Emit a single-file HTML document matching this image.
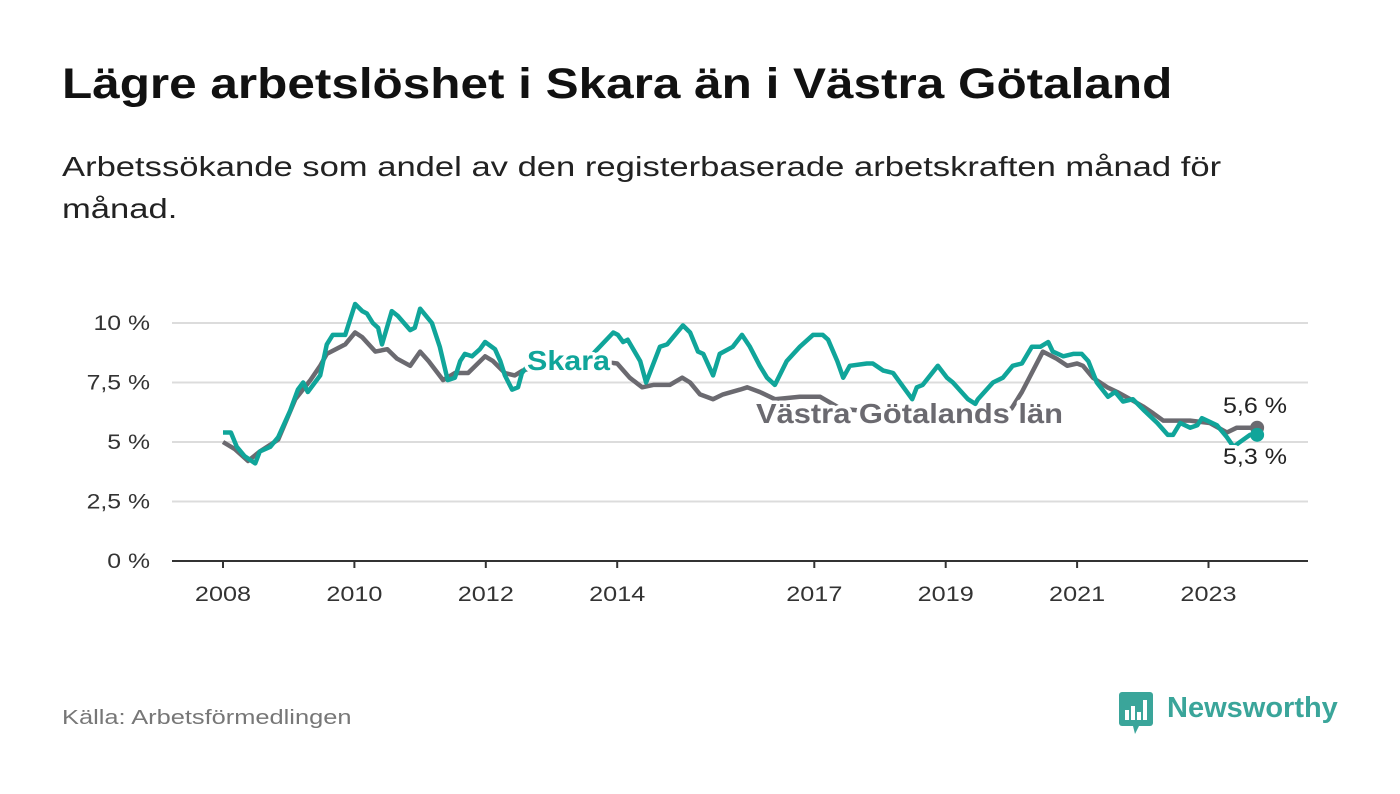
<!DOCTYPE html>
<html><head><meta charset="utf-8"><style>
body{margin:0;background:#fff;font-family:"Liberation Sans","DejaVu Sans",sans-serif;}
#wrap{position:relative;width:1400px;height:794px;overflow:hidden;}
h1{position:absolute;left:62px;top:60px;margin:0;font-size:43px;font-weight:bold;color:#111;transform:scaleX(1.15);transform-origin:left top;white-space:nowrap;}
.sub{position:absolute;left:62px;top:146px;margin:0;font-size:28px;line-height:42px;color:#222;transform:scaleX(1.235);transform-origin:left top;white-space:nowrap;}
.src{position:absolute;left:62px;top:707px;font-size:20px;color:#777;transform:scaleX(1.27);transform-origin:left top;white-space:nowrap;}
</style></head><body>
<div id="wrap">
<h1>Lägre arbetslöshet i Skara än i Västra Götaland</h1>
<p class="sub">Arbetssökande som andel av den registerbaserade arbetskraften månad för<br>månad.</p>
<svg id="chart" width="1400" height="794" style="position:absolute;left:0;top:0"></svg>
<div class="src">Källa: Arbetsförmedlingen</div>
<div style="position:absolute;left:1119px;top:690px;width:220px;height:46px;">
<svg width="36" height="44" style="position:absolute;left:0;top:2px"><rect x="0" y="0" width="34" height="34" rx="3" fill="#3aa59a"/><path d="M14 34 L20 34 L16 42 Z" fill="#3aa59a"/><rect x="6" y="18" width="4" height="10" fill="#fff"/><rect x="12" y="14" width="4" height="14" fill="#fff"/><rect x="18" y="20" width="4" height="8" fill="#fff"/><rect x="24" y="8" width="4" height="20" fill="#fff"/></svg>
<span style="position:absolute;left:48px;top:2px;font-size:29px;font-weight:bold;color:#3aa59a;">Newsworthy</span>
</div>
</div>
<script>
const skaraDates=[2008.00,2008.12,2008.21,2008.33,2008.49,2008.56,2008.72,2008.84,2009.02,2009.14,2009.22,2009.29,2009.48,2009.58,2009.67,2009.86,2009.93,2010.01,2010.12,2010.19,2010.28,2010.36,2010.42,2010.57,2010.66,2010.85,2010.92,2011.00,2011.18,2011.30,2011.42,2011.53,2011.61,2011.68,2011.79,2011.91,2011.99,2012.14,2012.22,2012.29,2012.40,2012.49,2012.55,2012.7,2012.9,2013.1,2013.3,2013.5,2013.63,2013.94,2014.01,2014.09,2014.16,2014.35,2014.44,2014.65,2014.76,2014.85,2015.00,2015.11,2015.23,2015.31,2015.46,2015.56,2015.76,2015.90,2016.02,2016.17,2016.28,2016.40,2016.58,2016.78,2016.98,2017.13,2017.21,2017.35,2017.44,2017.54,2017.80,2017.89,2018.05,2018.20,2018.49,2018.56,2018.65,2018.88,2019.02,2019.11,2019.34,2019.45,2019.49,2019.72,2019.87,2020.02,2020.16,2020.31,2020.44,2020.56,2020.63,2020.79,2020.94,2021.07,2021.17,2021.30,2021.47,2021.58,2021.70,2021.85,2022.03,2022.22,2022.38,2022.46,2022.57,2022.72,2022.83,2022.90,2023.13,2023.28,2023.38,2023.48,2023.63,2023.74];
const skaraValues=[5.4,5.4,4.8,4.4,4.1,4.6,4.8,5.2,6.3,7.2,7.5,7.1,7.8,9.1,9.5,9.5,10.1,10.8,10.5,10.4,10.0,9.8,9.1,10.5,10.3,9.7,9.8,10.6,10.0,9.0,7.6,7.7,8.4,8.7,8.6,8.9,9.2,8.9,8.4,7.8,7.2,7.3,7.9,8.4,8.5,8.4,8.3,8.5,8.7,9.6,9.5,9.2,9.3,8.4,7.5,9.0,9.1,9.4,9.9,9.6,8.8,8.7,7.8,8.7,9.0,9.5,9.0,8.2,7.7,7.4,8.4,9.0,9.5,9.5,9.3,8.4,7.7,8.2,8.3,8.3,8.0,7.9,6.8,7.3,7.4,8.2,7.7,7.5,6.8,6.6,6.8,7.5,7.7,8.2,8.3,9.0,9.0,9.2,8.8,8.6,8.7,8.7,8.4,7.5,6.9,7.1,6.7,6.8,6.3,5.8,5.3,5.3,5.8,5.6,5.7,6.0,5.7,5.2,4.8,5.0,5.3,5.3];
const vgDates=[2008.00,2008.18,2008.38,2008.56,2008.84,2009.10,2009.33,2009.48,2009.58,2009.86,2010.01,2010.12,2010.32,2010.50,2010.65,2010.85,2011.00,2011.13,2011.35,2011.53,2011.73,2011.99,2012.11,2012.29,2012.44,2012.56,2012.8,2013.1,2013.4,2013.7,2014.00,2014.19,2014.38,2014.55,2014.80,2014.99,2015.11,2015.26,2015.46,2015.61,2015.87,2015.98,2016.17,2016.4,2016.78,2017.09,2017.4,2017.8,2018.2,2018.6,2019.0,2019.4,2019.8,2020.0,2020.16,2020.48,2020.69,2020.85,2021.00,2021.09,2021.24,2021.46,2021.61,2021.81,2022.00,2022.16,2022.31,2022.72,2023.02,2023.28,2023.43,2023.63,2023.74];
const vgValues=[5.0,4.7,4.2,4.6,5.1,6.8,7.6,8.2,8.7,9.1,9.6,9.4,8.8,8.9,8.5,8.2,8.8,8.4,7.6,7.9,7.9,8.6,8.4,7.9,7.8,8.0,8.2,8.3,8.3,8.4,8.3,7.7,7.3,7.4,7.4,7.7,7.5,7.0,6.8,7.0,7.2,7.3,7.1,6.8,6.9,6.9,6.4,6.3,6.3,6.3,6.3,6.3,6.3,6.4,7.1,8.8,8.5,8.2,8.3,8.2,7.7,7.3,7.1,6.8,6.5,6.2,5.9,5.9,5.8,5.4,5.6,5.6,5.6];
const yTicks=[0,2.5,5,7.5,10];
const yTickLabels=["0 %","2,5 %","5 %","7,5 %","10 %"];
const xTicks=[2008,2010,2012,2014,2017,2019,2021,2023];
const NS="http://www.w3.org/2000/svg";
const svg=document.getElementById('chart');
const X=d=>223+(d-2008)*65.7;
const Y=v=>561-v*23.8;
function el(tag,attrs,parent){const e=document.createElementNS(NS,tag);for(const k in attrs)e.setAttribute(k,attrs[k]);(parent||svg).appendChild(e);return e;}
function widen(t,f){const w=t.getComputedTextLength();t.setAttribute('textLength',(w*f).toFixed(1));t.setAttribute('lengthAdjust','spacingAndGlyphs');}
yTicks.forEach((t,i)=>{
  if(t>0){const g=el('line',{x1:172,x2:1308,y1:Y(t),y2:Y(t),stroke:'#dcdcdc','stroke-width':2});
  
  }
  const tx=el('text',{x:150,y:Y(t)+7,'text-anchor':'end','font-size':21,fill:'#333'});
  tx.textContent=yTickLabels[i];
  
  
  widen(tx,1.18);
});
const ax=el('line',{x1:172,x2:1308,y1:561,y2:561,stroke:'#333','stroke-width':2});


xTicks.forEach(t=>{
  const tk=el('line',{x1:X(t),x2:X(t),y1:561,y2:568,stroke:'#333','stroke-width':2});
  
  
  const tx=el('text',{x:X(t),y:601,'text-anchor':'middle','font-size':21,fill:'#333'});
  tx.textContent=t;
  
  
  widen(tx,1.2);
});
function pts(ds,vs){return ds.map((d,i)=>X(d).toFixed(1)+','+Y(vs[i]).toFixed(1)).join(' ');}
const gl=el('polyline',{points:pts(vgDates,vgValues),fill:'none',stroke:'#6b6a70','stroke-width':4.5,'stroke-linejoin':'round'});


const sl=el('polyline',{points:pts(skaraDates,skaraValues),fill:'none',stroke:'#10a59a','stroke-width':4.5,'stroke-linejoin':'round'});


const lg=vgDates.length-1,ls=skaraDates.length-1;
const gd=el('circle',{cx:X(vgDates[lg]),cy:Y(vgValues[lg]),r:7,fill:'#6b6a70'});


const sd=el('circle',{cx:X(skaraDates[ls]),cy:Y(skaraValues[ls]),r:7,fill:'#10a59a'});


function lab(x,y,txt,size,fill,bold,name,len){
  const t=el('text',{x:x,y:y,'font-size':size,fill:fill,'font-weight':bold?'bold':'normal',stroke:'#fff','stroke-width':7,'paint-order':'stroke','stroke-linejoin':'round',textLength:len,lengthAdjust:'spacingAndGlyphs'});
  t.textContent=txt;
  
  
}
lab(527,370,'Skara',28,'#10a59a',true,'skara-label',83);
lab(756,423,'Västra Götalands län',28,'#6b6a70',true,'vastra-gotaland-label',307);
lab(1223,413,'5,6 %',22,'#222',false,'vastra-gotaland-end-value',64);
lab(1223,464,'5,3 %',22,'#222',false,'skara-end-value',64);
</script>
</body></html>
